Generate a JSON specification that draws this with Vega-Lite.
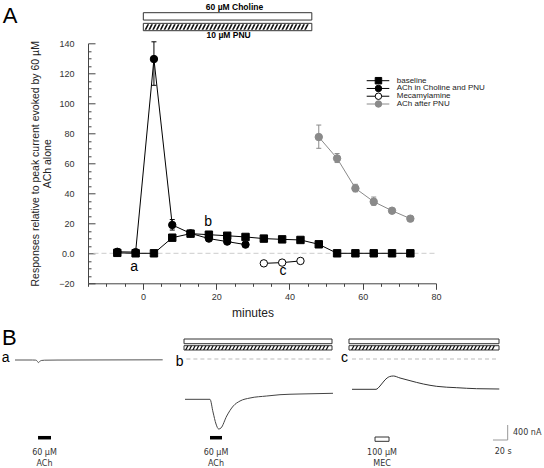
{
  "$schema": "https://vega.github.io/schema/vega-lite/v6.json",
  "width": 348,
  "height": 240,
  "autosize": {"type": "none"},
  "padding": {"left": 88, "top": 43.3, "right": 108, "bottom": 184.7},
  "background": "white",
  "config": {
    "view": {"stroke": null},
    "font": "Liberation Sans",
    "legend": {"disable": true},
    "axis": {"labelFont": "Liberation Sans", "titleFont": "Liberation Sans", "labelColor": "#333", "titleColor": "#222", "domainColor": "#444", "tickColor": "#444", "grid": false, "titleFontWeight": "normal"}
  },
  "datasets": {
    "resp": [
      {"series": "baseline", "min": -7, "value": 0.3},
      {"series": "baseline", "min": -2, "value": 0},
      {"series": "baseline", "min": 3, "value": 0},
      {"series": "baseline", "min": 8, "value": 10.4},
      {"series": "baseline", "min": 13, "value": 13.1},
      {"series": "baseline", "min": 18, "value": 12.4},
      {"series": "baseline", "min": 23, "value": 11.7},
      {"series": "baseline", "min": 28, "value": 10.9},
      {"series": "baseline", "min": 33, "value": 9.8},
      {"series": "baseline", "min": 38, "value": 9.3},
      {"series": "baseline", "min": 43, "value": 8.9},
      {"series": "baseline", "min": 48, "value": 6},
      {"series": "baseline", "min": 53, "value": 0},
      {"series": "baseline", "min": 58, "value": 0},
      {"series": "baseline", "min": 63, "value": 0},
      {"series": "baseline", "min": 68, "value": 0},
      {"series": "baseline", "min": 73, "value": 0},
      {"series": "ACh in Choline and PNU", "min": -7, "value": 1.0},
      {"series": "ACh in Choline and PNU", "min": -2, "value": 0.8},
      {"series": "ACh in Choline and PNU", "min": 3, "value": 129.5, "lo": 112, "hi": 141},
      {"series": "ACh in Choline and PNU", "min": 8, "value": 18.9, "lo": 15.5, "hi": 22.5},
      {"series": "ACh in Choline and PNU", "min": 13, "value": 13.3},
      {"series": "ACh in Choline and PNU", "min": 18, "value": 9.8},
      {"series": "ACh in Choline and PNU", "min": 23, "value": 7.8},
      {"series": "ACh in Choline and PNU", "min": 28, "value": 5.8},
      {"series": "Mecamylamine", "min": 33, "value": -6.7},
      {"series": "Mecamylamine", "min": 38, "value": -6.2},
      {"series": "Mecamylamine", "min": 43, "value": -5.1},
      {"series": "ACh after PNU", "min": 48, "value": 77.5, "lo": 70, "hi": 85.5},
      {"series": "ACh after PNU", "min": 53, "value": 63.3, "lo": 60.5, "hi": 66.5},
      {"series": "ACh after PNU", "min": 58, "value": 43.3, "lo": 41, "hi": 46},
      {"series": "ACh after PNU", "min": 63, "value": 34.4, "lo": 32, "hi": 37.5},
      {"series": "ACh after PNU", "min": 68, "value": 28.4},
      {"series": "ACh after PNU", "min": 73, "value": 23.1}
    ],
    "traces": [
      {"trace": "a", "t": 0, "nA": -27}, {"trace": "a", "t": 25, "nA": -27}, {"trace": "a", "t": 29.5, "nA": -30},
      {"trace": "a", "t": 31.5, "nA": -50}, {"trace": "a", "t": 33.3, "nA": -95}, {"trace": "a", "t": 35, "nA": -70},
      {"trace": "a", "t": 37.5, "nA": -40}, {"trace": "a", "t": 42, "nA": -32}, {"trace": "a", "t": 60, "nA": -28},
      {"trace": "a", "t": 120, "nA": -25}, {"trace": "a", "t": 211, "nA": -22},
      {"trace": "b", "t": 0, "nA": -1075}, {"trace": "b", "t": 35.7, "nA": -1075}, {"trace": "b", "t": 40, "nA": -1413},
      {"trace": "b", "t": 44.3, "nA": -1733}, {"trace": "b", "t": 48.1, "nA": -1867}, {"trace": "b", "t": 51.4, "nA": -1840},
      {"trace": "b", "t": 59.6, "nA": -1520}, {"trace": "b", "t": 69, "nA": -1253}, {"trace": "b", "t": 78.6, "nA": -1120},
      {"trace": "b", "t": 92.9, "nA": -1040}, {"trace": "b", "t": 116.7, "nA": -987}, {"trace": "b", "t": 135.7, "nA": -952},
      {"trace": "b", "t": 164.3, "nA": -933}, {"trace": "b", "t": 211.4, "nA": -915},
      {"trace": "c", "t": 0, "nA": -808}, {"trace": "c", "t": 34.3, "nA": -808}, {"trace": "c", "t": 40, "nA": -720},
      {"trace": "c", "t": 47, "nA": -560}, {"trace": "c", "t": 53.3, "nA": -472}, {"trace": "c", "t": 59, "nA": -453},
      {"trace": "c", "t": 68.6, "nA": -507}, {"trace": "c", "t": 82.9, "nA": -578}, {"trace": "c", "t": 101.9, "nA": -667},
      {"trace": "c", "t": 121, "nA": -729}, {"trace": "c", "t": 149.6, "nA": -765}, {"trace": "c", "t": 178, "nA": -792},
      {"trace": "c", "t": 210.4, "nA": -800}
    ],
    "drugs": [
      {"trace": "a", "drug": "ACh", "t0": 32.9, "t1": 51.4, "label": "60 µM\nACh"},
      {"trace": "b", "drug": "ACh", "t0": 35.7, "t1": 52.9, "label": "60 µM\nACh"},
      {"trace": "c", "drug": "MEC", "t0": 32.9, "t1": 52.9, "label": "100 µM\nMEC"}
    ],
    "perfusion": [
      {"trace": "b", "t0": -1.4, "t1": 210},
      {"trace": "c", "t0": -4.3, "t1": 210}
    ]
  },
  "resolve": {"scale": {"x": "independent", "y": "independent"}},
  "layer": [
    {
      "resolve": {"axis": {"x": "independent", "y": "independent"}},
      "layer": [
        {
          "layer": [
            {
              "data": {"values": [{}]},
              "mark": {"type": "rule", "stroke": "#cccccc", "strokeDash": [5, 3], "strokeWidth": 1},
              "encoding": {"x": {"datum": -13.5, "type": "quantitative"}, "x2": {"datum": 80}, "y": {"datum": 0, "type": "quantitative"}}
            },
            {
              "data": {"name": "resp"},
              "mark": {"type": "line", "strokeWidth": 1},
              "encoding": {
                "x": {"field": "min", "type": "quantitative", "scale": {"domain": [-15, 80], "nice": false, "zero": false},
                  "axis": {"orient": "bottom", "values": [0, 20, 40, 60, 80], "tickCount": 200, "tickSize": 6, "format": "d",
                    "labelFlush": false, "labelOverlap": false, "labelPadding": 3, "labelFontSize": 9,
                    "title": "minutes", "titleFontSize": 12, "titleX": 164.5, "titleY": 33.4, "titleBaseline": "alphabetic"}},
                "y": {"field": "value", "type": "quantitative", "scale": {"domain": [-20, 140], "nice": false, "zero": false},
                  "axis": {"orient": "left", "values": [-20, 0, 20, 40, 60, 80, 100, 120, 140], "tickCount": 200, "format": "d",
                    "labelExpr": "datum.value === 0 ? '0.0' : datum.label",
                    "tickSize": -7,
                    "labelFlush": false, "labelOverlap": false, "labelPadding": 21, "labelFontSize": 9,
                    "title": ["Responses relative to peak current evoked by 60 µM", "ACh alone"],
                    "titleFontSize": 10.5, "titlePadding": 6, "titleLineHeight": 12}},
                "stroke": {"field": "series", "type": "nominal",
                  "scale": {"domain": ["baseline", "ACh in Choline and PNU", "Mecamylamine", "ACh after PNU"], "range": ["#000000", "#000000", "#000000", "#8a8a8a"]}},
                "order": {"field": "min"}
              }
            },
            {
              "data": {"name": "resp"},
              "transform": [{"filter": "isValid(datum.lo)"}],
              "mark": {"type": "rule", "strokeWidth": 1},
              "encoding": {
                "x": {"field": "min", "type": "quantitative"},
                "y": {"field": "lo", "type": "quantitative"},
                "y2": {"field": "hi"},
                "stroke": {"field": "series", "type": "nominal"}
              }
            },
            {
              "data": {"name": "resp"},
              "transform": [{"filter": "isValid(datum.lo)"}],
              "mark": {"type": "tick", "orient": "horizontal", "size": 5, "thickness": 1, "opacity": 1},
              "encoding": {
                "x": {"field": "min", "type": "quantitative"},
                "y": {"field": "lo", "type": "quantitative"},
                "fill": {"field": "series", "type": "nominal"}
              }
            },
            {
              "data": {"name": "resp"},
              "transform": [{"filter": "isValid(datum.lo)"}],
              "mark": {"type": "tick", "orient": "horizontal", "size": 5, "thickness": 1, "opacity": 1},
              "encoding": {
                "x": {"field": "min", "type": "quantitative"},
                "y": {"field": "hi", "type": "quantitative"},
                "fill": {"field": "series", "type": "nominal"}
              }
            },
            {
              "data": {"name": "resp"},
              "mark": {"type": "point", "size": 55, "strokeWidth": 1, "opacity": 1},
              "encoding": {
                "x": {"field": "min", "type": "quantitative"},
                "y": {"field": "value", "type": "quantitative"},
                "fill": {"field": "series", "type": "nominal",
                  "scale": {"domain": ["baseline", "ACh in Choline and PNU", "Mecamylamine", "ACh after PNU"], "range": ["#000000", "#000000", "#ffffff", "#8a8a8a"]}},
                "stroke": {"field": "series", "type": "nominal"},
                "shape": {"field": "series", "type": "nominal",
                  "scale": {"domain": ["baseline", "ACh in Choline and PNU", "Mecamylamine", "ACh after PNU"], "range": ["square", "circle", "circle", "circle"]}}
              }
            },
            {
              "data": {"values": [{}]},
              "mark": {"type": "text", "fontSize": 14, "align": "center", "baseline": "alphabetic"},
              "encoding": {"x": {"datum": -2.4}, "y": {"datum": -11.6}, "text": {"value": "a"}}
            },
            {
              "data": {"values": [{}]},
              "mark": {"type": "text", "fontSize": 14, "align": "center", "baseline": "alphabetic"},
              "encoding": {"x": {"datum": 17.8}, "y": {"datum": 18.2}, "text": {"value": "b"}}
            },
            {
              "data": {"values": [{}]},
              "mark": {"type": "text", "fontSize": 14, "align": "center", "baseline": "alphabetic"},
              "encoding": {"x": {"datum": 38.2}, "y": {"datum": -14.5}, "text": {"value": "c"}}
            },
            {
              "data": {"values": [{}]},
              "mark": {"type": "rect", "fill": "#ffffff", "stroke": "#333333", "strokeWidth": 1},
              "encoding": {"x": {"datum": 0.1}, "x2": {"datum": 46.1}, "y": {"datum": 160.4}, "y2": {"datum": 155.5}}
            },
            {
              "data": {"values": [{}]},
              "mark": {"type": "rect", "fill": "#ffffff", "stroke": "#333333", "strokeWidth": 1},
              "encoding": {"x": {"datum": 0.1}, "x2": {"datum": 46.1}, "y": {"datum": 153.3}, "y2": {"datum": 148.4}}
            },
            {
              "data": {"values": [{}]},
              "mark": {"type": "point", "filled": true, "fill": "#111111", "strokeWidth": 0, "size": 4, "opacity": 1,
                "shape": "M-83,2.7h1.8l2.8,-5.4h-1.8zM-79.2,2.7h1.8l2.8,-5.4h-1.8zM-75.4,2.7h1.8l2.8,-5.4h-1.8zM-71.6,2.7h1.8l2.8,-5.4h-1.8zM-67.8,2.7h1.8l2.8,-5.4h-1.8zM-64,2.7h1.8l2.8,-5.4h-1.8zM-60.2,2.7h1.8l2.8,-5.4h-1.8zM-56.4,2.7h1.8l2.8,-5.4h-1.8zM-52.6,2.7h1.8l2.8,-5.4h-1.8zM-48.8,2.7h1.8l2.8,-5.4h-1.8zM-45,2.7h1.8l2.8,-5.4h-1.8zM-41.2,2.7h1.8l2.8,-5.4h-1.8zM-37.4,2.7h1.8l2.8,-5.4h-1.8zM-33.6,2.7h1.8l2.8,-5.4h-1.8zM-29.8,2.7h1.8l2.8,-5.4h-1.8zM-26,2.7h1.8l2.8,-5.4h-1.8zM-22.2,2.7h1.8l2.8,-5.4h-1.8zM-18.4,2.7h1.8l2.8,-5.4h-1.8zM-14.6,2.7h1.8l2.8,-5.4h-1.8zM-10.8,2.7h1.8l2.8,-5.4h-1.8zM-7,2.7h1.8l2.8,-5.4h-1.8zM-3.2,2.7h1.8l2.8,-5.4h-1.8zM0.6,2.7h1.8l2.8,-5.4h-1.8zM4.4,2.7h1.8l2.8,-5.4h-1.8zM8.2,2.7h1.8l2.8,-5.4h-1.8zM12,2.7h1.8l2.8,-5.4h-1.8zM15.8,2.7h1.8l2.8,-5.4h-1.8zM19.6,2.7h1.8l2.8,-5.4h-1.8zM23.4,2.7h1.8l2.8,-5.4h-1.8zM27.2,2.7h1.8l2.8,-5.4h-1.8zM31,2.7h1.8l2.8,-5.4h-1.8zM34.8,2.7h1.8l2.8,-5.4h-1.8zM38.6,2.7h1.8l2.8,-5.4h-1.8zM42.4,2.7h1.8l2.8,-5.4h-1.8zM46.2,2.7h1.8l2.8,-5.4h-1.8zM50,2.7h1.8l2.8,-5.4h-1.8zM53.8,2.7h1.8l2.8,-5.4h-1.8zM57.6,2.7h1.8l2.8,-5.4h-1.8zM61.4,2.7h1.8l2.8,-5.4h-1.8zM65.2,2.7h1.8l2.8,-5.4h-1.8zM69,2.7h1.8l2.8,-5.4h-1.8zM72.8,2.7h1.8l2.8,-5.4h-1.8zM76.6,2.7h1.8l2.8,-5.4h-1.8z"},
              "encoding": {"x": {"datum": 23.1}, "y": {"datum": 150.85}}
            },
            {
              "data": {"values": [{}]},
              "mark": {"type": "text", "fontSize": 8.5, "fontWeight": "bold", "align": "center", "baseline": "alphabetic"},
              "encoding": {"x": {"datum": 25}, "y": {"datum": 162.2}, "text": {"value": "60 µM  Choline"}}
            },
            {
              "data": {"values": [{}]},
              "mark": {"type": "text", "fontSize": 8.5, "fontWeight": "bold", "align": "center", "baseline": "alphabetic"},
              "encoding": {"x": {"datum": 23.4}, "y": {"datum": 143.4}, "text": {"value": "10 µM PNU"}}
            },
            {
              "data": {"values": [{}]},
              "mark": {"type": "text", "fontSize": 22, "align": "left", "baseline": "alphabetic"},
              "encoding": {"x": {"datum": -38.3}, "y": {"datum": 153.3}, "text": {"value": "A"}}
            }
          ]
        },
        {
          "data": {"values": [{}]},
          "mark": {"type": "point", "opacity": 0, "size": 1},
          "encoding": {
            "x": {"datum": 0, "type": "quantitative",
              "axis": {"orient": "bottom", "values": [-15, -10, -5, 5, 10, 15, 25, 30, 35, 45, 50, 55, 65, 70, 75], "tickCount": 200, "tickSize": 3, "labels": false, "domain": false, "title": null}},
            "y": {"datum": 0, "type": "quantitative",
              "axis": {"orient": "left", "values": [-15, -10, -5, 5, 10, 15, 25, 30, 35, 45, 50, 55, 65, 70, 75, 85, 90, 95, 105, 110, 115, 125, 130, 135], "tickCount": 200, "tickSize": -3, "labels": false, "domain": false, "title": null}}
          }
        }
      ]
    },
    {
      "data": {"name": "resp"},
      "transform": [{"aggregate": [{"op": "count", "as": "n"}], "groupby": ["series"]}],
      "layer": [
        {
          "mark": {"type": "rule", "strokeWidth": 1},
          "encoding": {
            "x": {"datum": 0, "type": "quantitative", "scale": {"domain": [0, 1], "range": [278.7, 301.3], "nice": false, "zero": false}, "axis": null},
            "x2": {"datum": 1},
            "y": {"field": "series", "type": "nominal", "scale": {"type": "point", "domain": ["baseline", "ACh in Choline and PNU", "Mecamylamine", "ACh after PNU"], "range": [37.4, 60.7], "padding": 0}, "axis": null},
            "stroke": {"field": "series", "type": "nominal"}
          }
        },
        {
          "mark": {"type": "point", "size": 42, "strokeWidth": 1, "opacity": 1},
          "encoding": {
            "x": {"datum": 0.52, "type": "quantitative"},
            "y": {"field": "series", "type": "nominal"},
            "fill": {"field": "series", "type": "nominal"},
            "stroke": {"field": "series", "type": "nominal"},
            "shape": {"field": "series", "type": "nominal"}
          }
        },
        {
          "mark": {"type": "text", "font": "Liberation Sans", "fontSize": 8, "align": "left", "baseline": "middle", "fill": "#222222"},
          "encoding": {
            "x": {"datum": 1.33, "type": "quantitative"},
            "y": {"field": "series", "type": "nominal"},
            "text": {"field": "series"}
          }
        }
      ]
    },
    {
      "layer": [
        {
          "data": {"name": "traces"},
          "transform": [{"filter": "datum.trace === 'a'"}],
          "mark": {"type": "line", "stroke": "#555555", "strokeWidth": 1, "interpolate": "monotone"},
          "encoding": {
            "x": {"field": "t", "type": "quantitative", "scale": {"domain": [0, 200], "range": [-73, 67], "nice": false, "zero": false}, "axis": null},
            "y": {"field": "nA", "type": "quantitative", "scale": {"domain": [-2400, 800], "range": [405.7, 285.7], "nice": false, "zero": false}, "axis": null}
          }
        },
        {
          "data": {"name": "drugs"},
          "transform": [{"filter": "datum.trace === 'a'"}],
          "mark": {"type": "rule", "stroke": "#000000", "strokeWidth": 3.5},
          "encoding": {"x": {"field": "t0", "type": "quantitative"}, "x2": {"field": "t1"}, "y": {"datum": -2099, "type": "quantitative"}}
        },
        {
          "data": {"name": "drugs"},
          "transform": [{"filter": "datum.trace === 'a'"}, {"calculate": "(datum.t0 + datum.t1) / 2", "as": "tm"}],
          "mark": {"type": "text", "font": "DejaVu Sans", "fontSize": 8, "align": "center", "baseline": "top", "lineBreak": "\n", "lineHeight": 11, "fill": "#333333"},
          "encoding": {"x": {"field": "tm", "type": "quantitative"}, "y": {"datum": -2413, "type": "quantitative"}, "text": {"field": "label"}}
        },
        {
          "data": {"values": [{}]},
          "mark": {"type": "text", "fontSize": 22, "align": "left", "baseline": "alphabetic"},
          "encoding": {"x": {"datum": -18.6}, "y": {"datum": 373}, "text": {"value": "B"}}
        },
        {
          "data": {"values": [{}]},
          "mark": {"type": "text", "fontSize": 14, "align": "left", "baseline": "alphabetic"},
          "encoding": {"x": {"datum": -19}, "y": {"datum": -88}, "text": {"value": "a"}}
        }
      ]
    },
    {
      "layer": [
        {
          "data": {"values": [{}]},
          "mark": {"type": "rule", "stroke": "#bbbbbb", "strokeDash": [4, 3], "strokeWidth": 1},
          "encoding": {
            "x": {"datum": 2, "type": "quantitative", "scale": {"domain": [0, 200], "range": [97, 237], "nice": false, "zero": false}, "axis": null},
            "x2": {"datum": 210},
            "y": {"datum": 0, "type": "quantitative", "scale": {"domain": [-2400, 800], "range": [405.7, 285.7], "nice": false, "zero": false}, "axis": null}
          }
        },
        {
          "data": {"name": "traces"},
          "transform": [{"filter": "datum.trace === 'b'"}],
          "mark": {"type": "line", "stroke": "#444444", "strokeWidth": 1, "interpolate": "monotone"},
          "encoding": {"x": {"field": "t", "type": "quantitative"}, "y": {"field": "nA", "type": "quantitative"}}
        },
        {
          "data": {"name": "perfusion"},
          "transform": [{"filter": "datum.trace === 'b'"}],
          "mark": {"type": "rect", "fill": "#ffffff", "stroke": "#333333", "strokeWidth": 1},
          "encoding": {"x": {"field": "t0", "type": "quantitative"}, "x2": {"field": "t1"}, "y": {"datum": 533, "type": "quantitative"}, "y2": {"datum": 408}}
        },
        {
          "data": {"name": "perfusion"},
          "transform": [{"filter": "datum.trace === 'b'"}],
          "mark": {"type": "rect", "fill": "#ffffff", "stroke": "#333333", "strokeWidth": 1},
          "encoding": {"x": {"field": "t0", "type": "quantitative"}, "x2": {"field": "t1"}, "y": {"datum": 355, "type": "quantitative"}, "y2": {"datum": 240}}
        },
        {
          "data": {"name": "perfusion"},
          "transform": [{"filter": "datum.trace === 'b'"}, {"calculate": "(datum.t0 + datum.t1) / 2", "as": "tm"}],
          "mark": {"type": "point", "filled": true, "fill": "#111111", "strokeWidth": 0, "size": 4, "opacity": 1,
            "shape": "M-73,2.2h1.4l2.2,-4.4h-1.4zM-69.4,2.2h1.4l2.2,-4.4h-1.4zM-65.8,2.2h1.4l2.2,-4.4h-1.4zM-62.2,2.2h1.4l2.2,-4.4h-1.4zM-58.6,2.2h1.4l2.2,-4.4h-1.4zM-55,2.2h1.4l2.2,-4.4h-1.4zM-51.4,2.2h1.4l2.2,-4.4h-1.4zM-47.8,2.2h1.4l2.2,-4.4h-1.4zM-44.2,2.2h1.4l2.2,-4.4h-1.4zM-40.6,2.2h1.4l2.2,-4.4h-1.4zM-37,2.2h1.4l2.2,-4.4h-1.4zM-33.4,2.2h1.4l2.2,-4.4h-1.4zM-29.8,2.2h1.4l2.2,-4.4h-1.4zM-26.2,2.2h1.4l2.2,-4.4h-1.4zM-22.6,2.2h1.4l2.2,-4.4h-1.4zM-19,2.2h1.4l2.2,-4.4h-1.4zM-15.4,2.2h1.4l2.2,-4.4h-1.4zM-11.8,2.2h1.4l2.2,-4.4h-1.4zM-8.2,2.2h1.4l2.2,-4.4h-1.4zM-4.6,2.2h1.4l2.2,-4.4h-1.4zM-1,2.2h1.4l2.2,-4.4h-1.4zM2.6,2.2h1.4l2.2,-4.4h-1.4zM6.2,2.2h1.4l2.2,-4.4h-1.4zM9.8,2.2h1.4l2.2,-4.4h-1.4zM13.4,2.2h1.4l2.2,-4.4h-1.4zM17,2.2h1.4l2.2,-4.4h-1.4zM20.6,2.2h1.4l2.2,-4.4h-1.4zM24.2,2.2h1.4l2.2,-4.4h-1.4zM27.8,2.2h1.4l2.2,-4.4h-1.4zM31.4,2.2h1.4l2.2,-4.4h-1.4zM35,2.2h1.4l2.2,-4.4h-1.4zM38.6,2.2h1.4l2.2,-4.4h-1.4zM42.2,2.2h1.4l2.2,-4.4h-1.4zM45.8,2.2h1.4l2.2,-4.4h-1.4zM49.4,2.2h1.4l2.2,-4.4h-1.4zM53,2.2h1.4l2.2,-4.4h-1.4zM56.6,2.2h1.4l2.2,-4.4h-1.4zM60.2,2.2h1.4l2.2,-4.4h-1.4zM63.8,2.2h1.4l2.2,-4.4h-1.4zM67.4,2.2h1.4l2.2,-4.4h-1.4z"},
          "encoding": {"x": {"field": "tm", "type": "quantitative"}, "y": {"datum": 297.5, "type": "quantitative"}}
        },
        {
          "data": {"name": "drugs"},
          "transform": [{"filter": "datum.trace === 'b'"}],
          "mark": {"type": "rule", "stroke": "#000000", "strokeWidth": 3.5},
          "encoding": {"x": {"field": "t0", "type": "quantitative"}, "x2": {"field": "t1"}, "y": {"datum": -2099, "type": "quantitative"}}
        },
        {
          "data": {"name": "drugs"},
          "transform": [{"filter": "datum.trace === 'b'"}, {"calculate": "(datum.t0 + datum.t1) / 2", "as": "tm"}],
          "mark": {"type": "text", "font": "DejaVu Sans", "fontSize": 8, "align": "center", "baseline": "top", "lineBreak": "\n", "lineHeight": 11, "fill": "#333333"},
          "encoding": {"x": {"field": "tm", "type": "quantitative"}, "y": {"datum": -2413, "type": "quantitative"}, "text": {"field": "label"}}
        },
        {
          "data": {"values": [{}]},
          "mark": {"type": "text", "fontSize": 14, "align": "left", "baseline": "alphabetic"},
          "encoding": {"x": {"datum": -13.3}, "y": {"datum": -187}, "text": {"value": "b"}}
        }
      ]
    },
    {
      "layer": [
        {
          "data": {"values": [{}]},
          "mark": {"type": "rule", "stroke": "#bbbbbb", "strokeDash": [4, 3], "strokeWidth": 1},
          "encoding": {
            "x": {"datum": 0, "type": "quantitative", "scale": {"domain": [0, 200], "range": [264, 404], "nice": false, "zero": false}, "axis": null},
            "x2": {"datum": 210},
            "y": {"datum": 0, "type": "quantitative", "scale": {"domain": [-2400, 800], "range": [405.7, 285.7], "nice": false, "zero": false}, "axis": null}
          }
        },
        {
          "data": {"name": "traces"},
          "transform": [{"filter": "datum.trace === 'c'"}],
          "mark": {"type": "line", "stroke": "#333333", "strokeWidth": 1, "interpolate": "monotone"},
          "encoding": {"x": {"field": "t", "type": "quantitative"}, "y": {"field": "nA", "type": "quantitative"}}
        },
        {
          "data": {"name": "perfusion"},
          "transform": [{"filter": "datum.trace === 'c'"}],
          "mark": {"type": "rect", "fill": "#ffffff", "stroke": "#333333", "strokeWidth": 1},
          "encoding": {"x": {"field": "t0", "type": "quantitative"}, "x2": {"field": "t1"}, "y": {"datum": 533, "type": "quantitative"}, "y2": {"datum": 408}}
        },
        {
          "data": {"name": "perfusion"},
          "transform": [{"filter": "datum.trace === 'c'"}],
          "mark": {"type": "rect", "fill": "#ffffff", "stroke": "#333333", "strokeWidth": 1},
          "encoding": {"x": {"field": "t0", "type": "quantitative"}, "x2": {"field": "t1"}, "y": {"datum": 355, "type": "quantitative"}, "y2": {"datum": 240}}
        },
        {
          "data": {"name": "perfusion"},
          "transform": [{"filter": "datum.trace === 'c'"}, {"calculate": "(datum.t0 + datum.t1) / 2", "as": "tm"}],
          "mark": {"type": "point", "filled": true, "fill": "#111111", "strokeWidth": 0, "size": 4, "opacity": 1,
            "shape": "M-73,2.2h1.4l2.2,-4.4h-1.4zM-69.4,2.2h1.4l2.2,-4.4h-1.4zM-65.8,2.2h1.4l2.2,-4.4h-1.4zM-62.2,2.2h1.4l2.2,-4.4h-1.4zM-58.6,2.2h1.4l2.2,-4.4h-1.4zM-55,2.2h1.4l2.2,-4.4h-1.4zM-51.4,2.2h1.4l2.2,-4.4h-1.4zM-47.8,2.2h1.4l2.2,-4.4h-1.4zM-44.2,2.2h1.4l2.2,-4.4h-1.4zM-40.6,2.2h1.4l2.2,-4.4h-1.4zM-37,2.2h1.4l2.2,-4.4h-1.4zM-33.4,2.2h1.4l2.2,-4.4h-1.4zM-29.8,2.2h1.4l2.2,-4.4h-1.4zM-26.2,2.2h1.4l2.2,-4.4h-1.4zM-22.6,2.2h1.4l2.2,-4.4h-1.4zM-19,2.2h1.4l2.2,-4.4h-1.4zM-15.4,2.2h1.4l2.2,-4.4h-1.4zM-11.8,2.2h1.4l2.2,-4.4h-1.4zM-8.2,2.2h1.4l2.2,-4.4h-1.4zM-4.6,2.2h1.4l2.2,-4.4h-1.4zM-1,2.2h1.4l2.2,-4.4h-1.4zM2.6,2.2h1.4l2.2,-4.4h-1.4zM6.2,2.2h1.4l2.2,-4.4h-1.4zM9.8,2.2h1.4l2.2,-4.4h-1.4zM13.4,2.2h1.4l2.2,-4.4h-1.4zM17,2.2h1.4l2.2,-4.4h-1.4zM20.6,2.2h1.4l2.2,-4.4h-1.4zM24.2,2.2h1.4l2.2,-4.4h-1.4zM27.8,2.2h1.4l2.2,-4.4h-1.4zM31.4,2.2h1.4l2.2,-4.4h-1.4zM35,2.2h1.4l2.2,-4.4h-1.4zM38.6,2.2h1.4l2.2,-4.4h-1.4zM42.2,2.2h1.4l2.2,-4.4h-1.4zM45.8,2.2h1.4l2.2,-4.4h-1.4zM49.4,2.2h1.4l2.2,-4.4h-1.4zM53,2.2h1.4l2.2,-4.4h-1.4zM56.6,2.2h1.4l2.2,-4.4h-1.4zM60.2,2.2h1.4l2.2,-4.4h-1.4zM63.8,2.2h1.4l2.2,-4.4h-1.4zM67.4,2.2h1.4l2.2,-4.4h-1.4z"},
          "encoding": {"x": {"field": "tm", "type": "quantitative"}, "y": {"datum": 297.5, "type": "quantitative"}}
        },
        {
          "data": {"name": "drugs"},
          "transform": [{"filter": "datum.trace === 'c'"}],
          "mark": {"type": "rect", "fill": "#ffffff", "stroke": "#333333", "strokeWidth": 1},
          "encoding": {"x": {"field": "t0", "type": "quantitative"}, "x2": {"field": "t1"}, "y": {"datum": -2080, "type": "quantitative"}, "y2": {"datum": -2195}}
        },
        {
          "data": {"name": "drugs"},
          "transform": [{"filter": "datum.trace === 'c'"}, {"calculate": "(datum.t0 + datum.t1) / 2", "as": "tm"}],
          "mark": {"type": "text", "font": "DejaVu Sans", "fontSize": 8, "align": "center", "baseline": "top", "lineBreak": "\n", "lineHeight": 11, "fill": "#333333"},
          "encoding": {"x": {"field": "tm", "type": "quantitative"}, "y": {"datum": -2413, "type": "quantitative"}, "text": {"field": "label"}}
        },
        {
          "data": {"values": [{}]},
          "mark": {"type": "text", "fontSize": 14, "align": "left", "baseline": "alphabetic"},
          "encoding": {"x": {"datum": -15.7}, "y": {"datum": -88}, "text": {"value": "c"}}
        },
        {
          "data": {"values": [{}]},
          "mark": {"type": "rule", "stroke": "#999999", "strokeWidth": 1},
          "encoding": {"x": {"datum": 222.4}, "y": {"datum": -1760}, "y2": {"datum": -2160}}
        },
        {
          "data": {"values": [{}]},
          "mark": {"type": "rule", "stroke": "#999999", "strokeWidth": 1},
          "encoding": {"x": {"datum": 201.4}, "x2": {"datum": 222.4}, "y": {"datum": -2160}}
        },
        {
          "data": {"values": [{}]},
          "mark": {"type": "text", "font": "DejaVu Sans", "fontSize": 8, "align": "left", "baseline": "middle", "fill": "#333333"},
          "encoding": {"x": {"datum": 230}, "y": {"datum": -1973}, "text": {"value": "400 nA"}}
        },
        {
          "data": {"values": [{}]},
          "mark": {"type": "text", "font": "DejaVu Sans", "fontSize": 8, "align": "center", "baseline": "middle", "fill": "#333333"},
          "encoding": {"x": {"datum": 216}, "y": {"datum": -2480}, "text": {"value": "20 s"}}
        }
      ]
    }
  ]
}
